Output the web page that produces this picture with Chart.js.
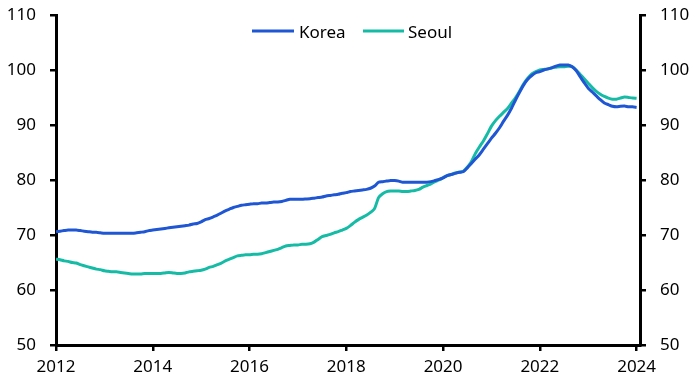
<!DOCTYPE html>
<html>
<head>
<meta charset="utf-8">
<script src="https://cdn.jsdelivr.net/npm/chart.js@4"></script>
<style>
  html, body { margin: 0; padding: 0; background: #fff; }
  #wrap { width: 699px; height: 391px; position: relative; }
</style>
</head>
<body>
<div id="wrap"><canvas id="c" width="699" height="391"></canvas></div>
<script>
// Monthly series, Jan 2012 .. Jan 2024
const startYear = 2012;
const seriesNames = ["Korea", "Seoul"];
const korea = [
  70.6, 70.7, 70.8, 70.9, 70.9, 70.9, 70.8, 70.7, 70.6, 70.5, 70.5, 70.4,
  70.3, 70.3, 70.3, 70.3, 70.3, 70.3, 70.3, 70.3, 70.4, 70.5, 70.6, 70.8,
  70.9, 71.0, 71.1, 71.2, 71.3, 71.4, 71.5, 71.6, 71.7, 71.8, 72.0, 72.1,
  72.4, 72.8, 73.0, 73.3, 73.6, 74.0, 74.4, 74.7, 75.0, 75.2, 75.4, 75.5,
  75.6, 75.7, 75.7, 75.8, 75.8, 75.9, 76.0, 76.0, 76.1, 76.3, 76.5, 76.5,
  76.5, 76.5, 76.55, 76.6, 76.7, 76.8, 76.9, 77.1, 77.2, 77.3, 77.4, 77.6,
  77.7, 77.9, 78.0, 78.1, 78.2, 78.3, 78.5, 78.9, 79.6, 79.7, 79.8, 79.9,
  79.9, 79.8, 79.6, 79.6, 79.6, 79.6, 79.6, 79.6, 79.6, 79.7, 79.9, 80.1,
  80.4, 80.8, 81.0, 81.2, 81.4, 81.5, 82.2, 83.0, 83.8, 84.6, 85.6, 86.6,
  87.6, 88.5, 89.5, 90.7, 91.8, 93.1, 94.6, 96.0, 97.3, 98.3, 99.0, 99.5,
  99.7, 100.0, 100.2, 100.4, 100.7, 100.9, 100.9, 100.9, 100.6, 99.9, 98.8, 97.7,
  96.7, 96.0, 95.3, 94.6, 94.0, 93.7, 93.4, 93.3, 93.4, 93.45, 93.3, 93.3,
  93.2
];
const seoul = [
  65.6, 65.5, 65.3, 65.2, 65.0, 64.9, 64.6, 64.4, 64.2, 64.0, 63.8, 63.7,
  63.5, 63.4, 63.3, 63.3, 63.2, 63.1, 63.0, 62.9, 62.9, 62.9, 63.0, 63.0,
  63.0, 63.0, 63.0, 63.1, 63.2, 63.1, 63.0, 63.0, 63.1, 63.3, 63.4, 63.5,
  63.6, 63.8, 64.1, 64.3, 64.6, 64.9, 65.3, 65.6, 65.9, 66.2, 66.3, 66.4,
  66.4, 66.5, 66.5, 66.6, 66.8, 67.0, 67.2, 67.4, 67.7, 68.0, 68.1, 68.2,
  68.2, 68.3, 68.3, 68.4, 68.7, 69.2, 69.7, 69.9, 70.1, 70.4, 70.6, 70.9,
  71.2, 71.7, 72.3, 72.8, 73.2, 73.6, 74.1, 74.8, 76.8, 77.5, 77.9, 78.0,
  78.0, 78.0, 77.9, 77.9, 78.0, 78.1, 78.3, 78.7, 79.0, 79.3, 79.7, 80.0,
  80.4, 80.8, 81.0, 81.3, 81.4, 81.6, 82.3, 83.3, 84.8, 86.0, 87.1, 88.4,
  89.8, 90.8, 91.6, 92.3, 93.0, 94.0, 95.0, 96.2, 97.5, 98.5, 99.3, 99.7,
  100.0, 100.1, 100.2, 100.4, 100.5, 100.6, 100.6, 100.7, 100.6, 100.0, 99.2, 98.4,
  97.6, 96.8, 96.1, 95.6, 95.2, 94.9, 94.7, 94.7, 94.9, 95.1, 95.0, 94.9,
  94.85
];
const xTicks = [2012, 2014, 2016, 2018, 2020, 2022, 2024];
const yTicks = [50, 60, 70, 80, 90, 100, 110];

const colors = ["#1f56d3", "#16bba6"];
const FONT = "'Noto Sans', sans-serif";

function toPoints(arr) {
  return arr.map((v, i) => ({ x: startYear + i / 12, y: v }));
}

const legendPlugin = {
  id: 'inlineLegend',
  afterDraw(chart) {
    const ctx = chart.ctx;
    const items = [
      { x0: 252, x1: 294, tx: 299 },
      { x0: 363, x1: 404, tx: 408 }
    ];
    ctx.save();
    items.forEach((it, i) => {
      ctx.strokeStyle = colors[i];
      ctx.lineWidth = 3;
      ctx.beginPath();
      ctx.moveTo(it.x0, 31);
      ctx.lineTo(it.x1, 31);
      ctx.stroke();
      ctx.fillStyle = '#000';
      ctx.font = "17px " + FONT;
      ctx.textBaseline = 'alphabetic';
      ctx.textAlign = 'left';
      ctx.fillText(seriesNames[i], it.tx, 38);
    });
    ctx.restore();
  }
};

const yAxisCommon = (pos, width) => ({
  type: 'linear',
  position: pos,
  min: 50, max: 110,
  afterBuildTicks: s => { s.ticks = yTicks.map(v => ({ value: v })); },
  afterFit: s => { s.width = width; s.paddingTop = 0; s.paddingBottom = 0; },
  border: { display: true, color: '#000', width: 3 },
  grid: { drawOnChartArea: false, drawTicks: true, tickLength: 6, color: '#000', lineWidth: 2.5 },
  ticks: { color: '#000', font: { family: FONT, size: 17 }, padding: 14 }
});

new Chart(document.getElementById('c'), {
  type: 'line',
  data: {
    datasets: [
      { label: seriesNames[0], data: toPoints(korea), borderColor: colors[0], borderWidth: 3, pointRadius: 0, tension: 0.2, fill: false },
      { label: seriesNames[1], data: toPoints(seoul), borderColor: colors[1], borderWidth: 3, pointRadius: 0, tension: 0.2, fill: false }
    ]
  },
  options: {
    responsive: false,
    animation: false,
    devicePixelRatio: 1,
    layout: { padding: { top: 15, left: 0, right: 0, bottom: 0 } },
    plugins: { legend: { display: false }, tooltip: { enabled: false } },
    scales: {
      x: {
        type: 'linear',
        min: 2012, max: 2024.07,
        afterBuildTicks: s => { s.ticks = xTicks.map(v => ({ value: v })); },
        afterFit: s => { s.height = 46; s.paddingLeft = 0; s.paddingRight = 0; },
        border: { display: true, color: '#000', width: 3 },
        grid: { drawOnChartArea: false, drawTicks: true, tickLength: 6, color: '#000', lineWidth: 2.5 },
        ticks: { color: '#000', font: { family: FONT, size: 17 }, padding: 6, maxRotation: 0, callback: v => String(v) }
      },
      y: yAxisCommon('left', 56),
      y2: yAxisCommon('right', 59)
    }
  },
  plugins: [legendPlugin]
});
</script>
</body>
</html>
